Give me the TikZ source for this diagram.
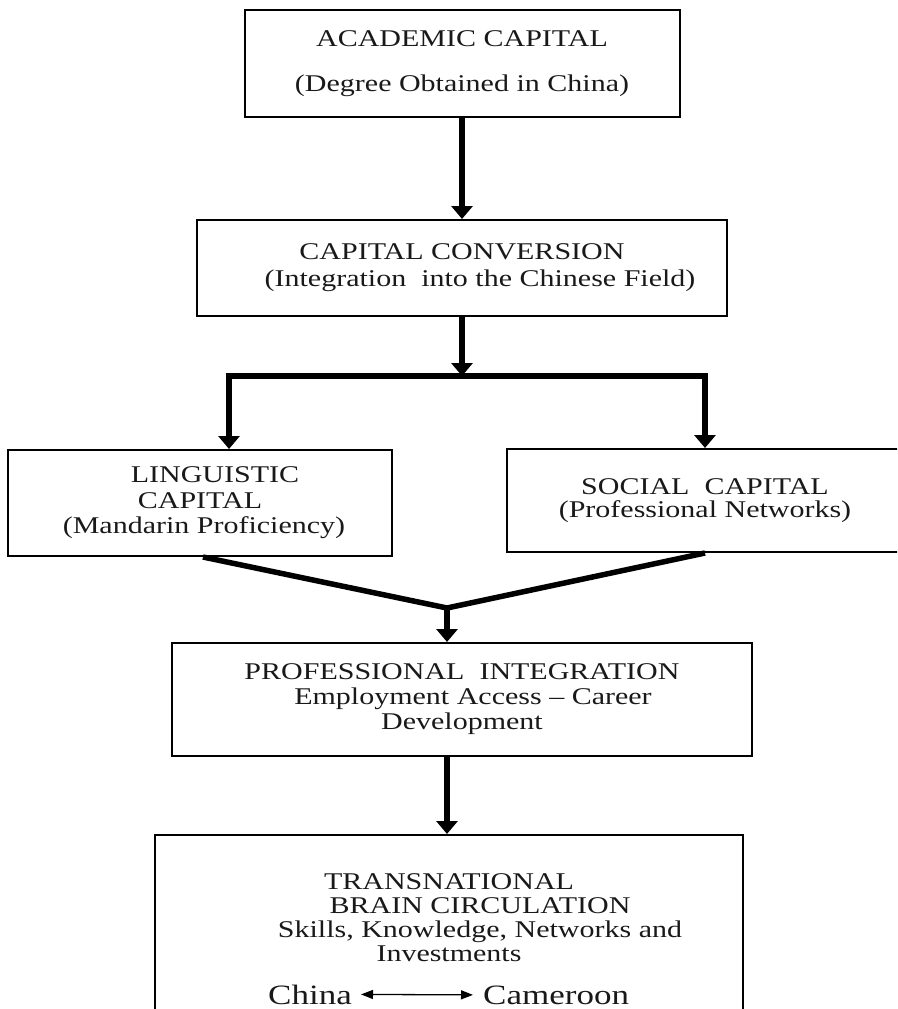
\documentclass[tikz,border=0pt]{standalone}
\usepackage{fontspec}
\setmainfont{Liberation Serif}[FakeStretch=1.25]
\usetikzlibrary{arrows.meta,calc}
\begin{document}
\begin{tikzpicture}[x=1pt,y=-1pt,
  box/.style={draw, line width=2pt, inner sep=0pt, align=center,
    font=\fontsize{24}{25.5}\selectfont, text=black!90},
  plaintext/.style={inner sep=0pt, align=center,
    font=\fontsize{24}{24}\selectfont, text=black!90},
  endtext/.style={inner sep=0pt, anchor=base west,
    font=\fontsize{28}{30}\selectfont, text=black!90},
  arr/.style={line width=6pt, -{Triangle[width=21pt,length=13pt]}},
  thickline/.style={line width=5.5pt},
  thinarr/.style={line width=1.3pt,
    {Triangle[width=9pt,length=12pt]}-{Triangle[width=9pt,length=12pt]}},
]
\clip (0,0) rectangle (897,1009);
\useasboundingbox (0,0) rectangle (897,1009);

% boxes
\node[box, minimum width=435pt, minimum height=107pt] (acad) at (462,63.5)
  {ACADEMIC CAPITAL\\[19.5pt](Degree Obtained in China)};
\node[box, minimum width=530pt, minimum height=96pt] (conv) at (462,268)
  {CAPITAL CONVERSION\\[1.5pt]\hspace*{36pt}(Integration\ \ into the Chinese Field)};
\node[box, minimum width=384pt, minimum height=106pt] (ling) at (200,503)
  {\hspace*{30pt}LINGUISTIC\\CAPITAL\\\hspace*{8pt}(Mandarin Proficiency)};
\node[box, minimum width=396pt, minimum height=103pt] (soc) at (705,500.5)
  {SOCIAL\ \ CAPITAL\\[-2.5pt](Professional Networks)};
\node[box, minimum width=580pt, minimum height=113pt] (pi) at (462,699.5)
  {PROFESSIONAL\ \ INTEGRATION\\[-0.5pt]\hspace*{22pt}Employment Access -- Career\\[-0.5pt]Development};
\node[box, minimum width=588pt, minimum height=220pt, anchor=north] (circ) at (449,834) {};
\node[plaintext, anchor=north] (circtxt) at (449,873)
  {TRANSNATIONAL\\\hspace*{62pt}BRAIN CIRCULATION\\\hspace*{62pt}Skills, Knowledge,\ Networks and\\Investments};
\node[endtext] (china) at (268,1004) {China};
\node[endtext] (cam) at (483,1004) {Cameroon};

% connectors
\draw[arr] (acad.south) -- (acad.south |- conv.north);
\coordinate (split) at (462,376);
\draw[arr] (conv.south) -- (split);
\draw[arr] (split) -| ([xshift=29pt]ling.north);
\draw[arr] (split) -| (soc.north);
\coordinate (merge) at (447,608);
\draw[thickline] ([xshift=3pt]ling.south) -- (merge) -- (soc.south);
\draw[arr] (merge) -- (merge |- pi.north);
\draw[arr] (merge |- pi.south) -- (merge |- circ.north);
\draw[thinarr] ([xshift=9pt]china.east) -- ([xshift=-10pt]cam.west);
\end{tikzpicture}
\end{document}
